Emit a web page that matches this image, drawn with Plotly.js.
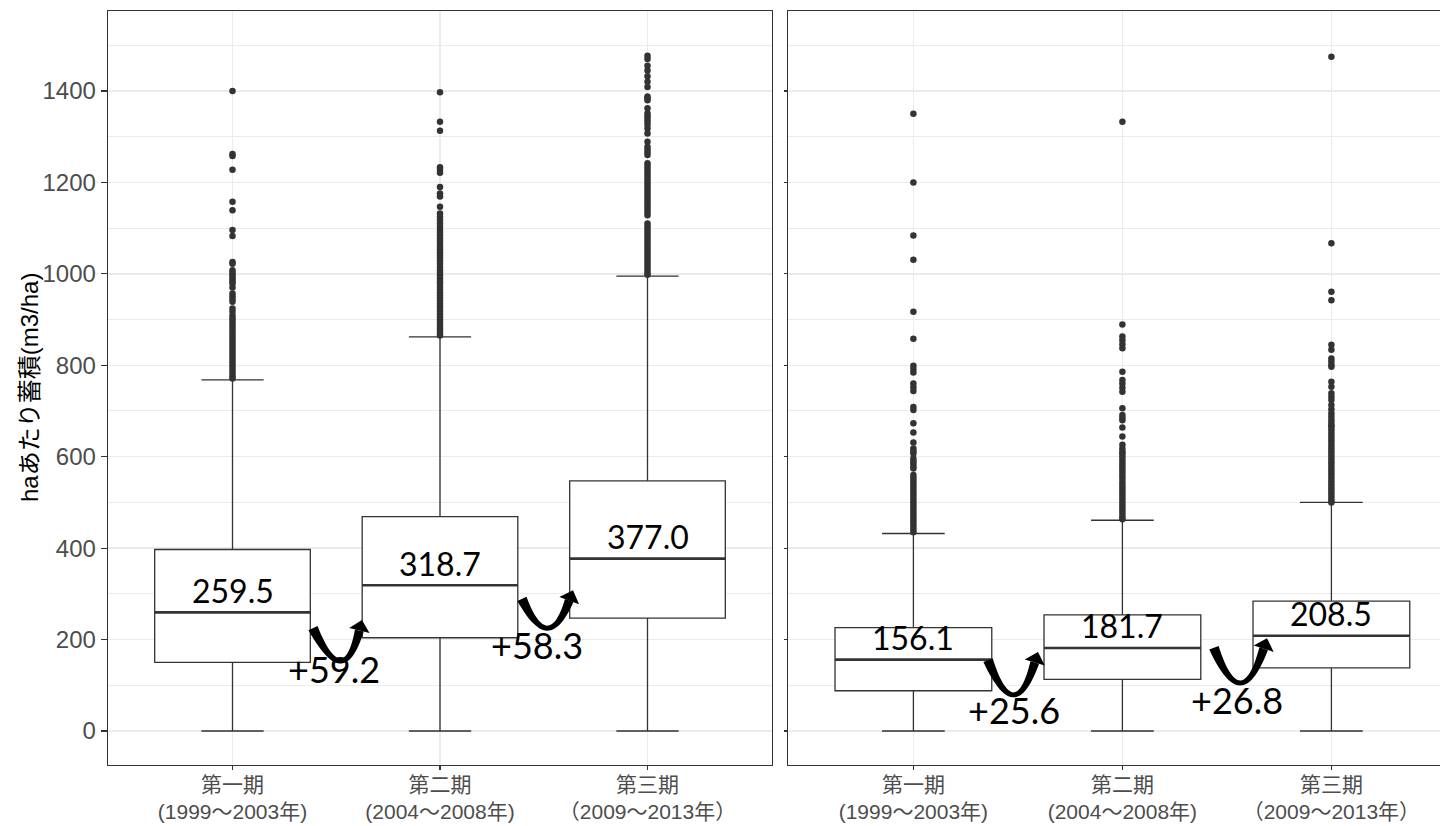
<!DOCTYPE html>
<html>
<head>
<meta charset="utf-8">
<script src="https://cdn.plot.ly/plotly-3.0.1.min.js"></script>
<style>html,body{margin:0;padding:0;background:#fff;overflow:hidden}</style>
</head>
<body>
<div id="chart" style="width:1440px;height:826px"></div>
<script>
// ---------------- data ----------------
const categories = ['第一期', '第二期', '第三期'];
const periodYears = ['(1999～2003年)', '(2004～2008年)', '（2009～2013年）'];
const catX = [1, 2, 3];

// left panel
const leftQ1 = [150, 204, 247];
const leftMedian = [259.5, 318.7, 377.0];
const leftQ3 = [397, 469, 547];
const leftLower = [0, 0, 0];
const leftUpper = [768, 862, 995];
const leftOut1 = [1400, 1262, 1258, 1228, 1158, 1139, 1096, 1083, 1026, 1022, 1008, 1003, 998, 993, 988, 983, 979, 970, 957, 951, 945, 939, 924, 917, 909, 903, 897, 891, 885, 879, 873, 866, 860, 854, 848, 842, 836, 830, 824, 818, 812, 806, 800, 794, 788, 782, 776, 771];
const leftOut2 = [1397, 1333, 1313, 1233, 1228, 1221, 1190, 1176, 1169, 1147, 1132, 1125, 1117, 1110, 1103, 1096, 1090, 1084, 1078, 1072, 1066, 1059, 1053, 1047, 1041, 1035, 1029, 1022, 1015, 1008, 1002, 996, 990, 984, 979, 971, 965, 959, 953, 947, 941, 935, 929, 923, 917, 911, 905, 899, 893, 887, 881, 875, 869, 865];
const leftOut3 = [1477, 1470, 1455, 1445, 1432, 1420, 1409, 1388, 1384, 1380, 1362, 1351, 1345, 1339, 1333, 1326, 1318, 1307, 1289, 1278, 1272, 1266, 1260, 1242, 1236, 1230, 1224, 1218, 1212, 1206, 1200, 1194, 1188, 1182, 1176, 1170, 1164, 1158, 1152, 1146, 1140, 1134, 1128, 1110, 1104, 1098, 1092, 1086, 1080, 1074, 1068, 1062, 1056, 1050, 1044, 1038, 1032, 1026, 1020, 1014, 1008, 1002, 998];

// right panel
const rightQ1 = [88, 113, 138];
const rightMedian = [156.1, 181.7, 208.5];
const rightQ3 = [226, 254, 284];
const rightLower = [0, 0, 0];
const rightUpper = [432, 461, 500];
const rightOut1 = [1350, 1200, 1084, 1031, 917, 858, 799, 792, 784, 760, 752, 744, 709, 702, 673, 653, 631, 618, 612, 607, 596, 590, 585, 579, 574, 560, 554, 548, 542, 536, 530, 524, 518, 512, 506, 500, 494, 488, 482, 476, 470, 464, 458, 452, 446, 440, 435];
const rightOut2 = [1333, 889, 863, 855, 846, 837, 786, 768, 760, 751, 742, 706, 691, 685, 680, 664, 644, 626, 618, 611, 607, 601, 595, 589, 583, 577, 571, 565, 559, 553, 545, 539, 533, 527, 521, 515, 509, 503, 497, 491, 485, 479, 473, 467, 463];
const rightOut3 = [1475, 1067, 961, 942, 845, 834, 815, 808, 801, 797, 764, 753, 739, 731, 724, 713, 704, 695, 688, 681, 675, 669, 666, 660, 654, 648, 642, 636, 630, 624, 618, 612, 606, 600, 594, 588, 582, 576, 570, 564, 558, 552, 546, 540, 534, 528, 522, 516, 510, 504, 500];

const yTickVals = [0, 200, 400, 600, 800, 1000, 1200, 1400];

// ---------------- layout config (positions / styles) ----------------
const W = 1440, H = 826;
const FONT = 'Liberation Sans, Arial, Noto Sans CJK JP, sans-serif';
const LABEL_FONT = 'Lato, Noto Sans, sans-serif';
const DARK = '#333333';
const GRID = '#EBEBEB';
const yRange = [-74.4, 1575];
const panelTop = 11, panelBottom = 765;
const panels = {
  L: {x0: 108, x1: 772, xr: [0.4, 3.6], xref: 'x', yref: 'y'},
  R: {x0: 788, x1: 1440, xr: [0.4, 0.4 + 652 / 209], xref: 'x2', yref: 'y2'}
};
const boxWidth = 0.75;
// label positions [x, y] in data units
const changePos = {L: [[1.49, 136], [2.467, 188]], R: [[1.48, 46], [2.55, 68]]};
// arrow geometry: start, bottom, tip (data units)
const arrowGeom = {
  L: [[[1.388, 225], [1.518, 153], [1.624, 243]], [[2.395, 289], [2.516, 225], [2.641, 308]]],
  R: [[[1.357, 155], [1.477, 79], [1.596, 173]], [[2.438, 182], [2.563, 105], [2.692, 203]]]
};

// ---------------- helpers ----------------
function toPx(p, x, y) {
  const a = panels[p];
  const sx = (a.x1 - a.x0) / (a.xr[1] - a.xr[0]);
  const sy = (panelBottom - panelTop) / (yRange[1] - yRange[0]);
  return [a.x0 + (x - a.xr[0]) * sx, panelBottom - (y - yRange[0]) * sy];
}
function toData(p, px, py) {
  const a = panels[p];
  const sx = (a.x1 - a.x0) / (a.xr[1] - a.xr[0]);
  const sy = (panelBottom - panelTop) / (yRange[1] - yRange[0]);
  return [a.xr[0] + (px - a.x0) / sx, yRange[0] + (panelBottom - py) / sy];
}
function pathFrom(p, pts) {
  return pts.map((q, i) => {
    const d = toData(p, q[0], q[1]);
    return (i ? 'L' : 'M') + d[0].toFixed(5) + ',' + d[1].toFixed(3);
  }).join(' ') + ' Z';
}
function arrowShapes(p, g) {
  const s = toPx(p, g[0][0], g[0][1]);
  const b = toPx(p, g[1][0], g[1][1]);
  const t = toPx(p, g[2][0], g[2][1]);
  const headLen = 11, headHalf = 10.5;
  let c = [2 * b[0] - (s[0] + t[0]) / 2, 2 * b[1] - (s[1] + t[1]) / 2];
  let dx = t[0] - c[0], dy = t[1] - c[1];
  let dl = Math.hypot(dx, dy); dx /= dl; dy /= dl;
  const e = [t[0] - dx * headLen, t[1] - dy * headLen];
  const c2 = [2 * b[0] - (s[0] + e[0]) / 2, 2 * b[1] - (s[1] + e[1]) / 2];
  const N = 30, left = [], right = [];
  const w0 = 10, wm = 5, w1 = 9;
  for (let i = 0; i <= N; i++) {
    const u = i / N;
    const px = (1 - u) * (1 - u) * s[0] + 2 * u * (1 - u) * c2[0] + u * u * e[0];
    const py = (1 - u) * (1 - u) * s[1] + 2 * u * (1 - u) * c2[1] + u * u * e[1];
    let tx = 2 * (1 - u) * (c2[0] - s[0]) + 2 * u * (e[0] - c2[0]);
    let ty = 2 * (1 - u) * (c2[1] - s[1]) + 2 * u * (e[1] - c2[1]);
    const tl = Math.hypot(tx, ty); tx /= tl; ty /= tl;
    const w = u < 0.5 ? wm + (w0 - wm) * Math.pow(1 - 2 * u, 2) : wm + (w1 - wm) * Math.pow(2 * u - 1, 2);
    left.push([px - ty * w / 2, py + tx * w / 2]);
    right.push([px + ty * w / 2, py - tx * w / 2]);
  }
  const body = left.concat(right.reverse());
  const head = [[t[0], t[1]], [e[0] - dy * headHalf, e[1] + dx * headHalf], [e[0] + dy * headHalf, e[1] - dx * headHalf]];
  const a = panels[p];
  const common = {type: 'path', xref: a.xref, yref: a.yref, fillcolor: '#000', line: {width: 0}, layer: 'above'};
  return [Object.assign({path: pathFrom(p, body)}, common), Object.assign({path: pathFrom(p, head)}, common)];
}

// ---------------- traces ----------------
function panelTraces(p, q1, med, q3, lo, hi, outs) {
  const a = panels[p];
  const tr = [];
  tr.push({
    type: 'box', x: catX, q1: q1, median: med, q3: q3, lowerfence: lo, upperfence: hi,
    width: boxWidth, whiskerwidth: 0.4, boxpoints: false, fillcolor: '#ffffff',
    line: {color: DARK, width: 1.3}, xaxis: a.xref, yaxis: a.yref, hoverinfo: 'skip'
  });
  const ox = [], oy = [];
  outs.forEach((arr, i) => arr.forEach(v => { ox.push(catX[i]); oy.push(v); }));
  tr.push({type: 'scatter', mode: 'markers', x: ox, y: oy, marker: {color: DARK, size: 6.5}, xaxis: a.xref, yaxis: a.yref, hoverinfo: 'skip'});
  const mx = [], my = [];
  med.forEach((m, i) => { mx.push(catX[i] - boxWidth / 2, catX[i] + boxWidth / 2, null); my.push(m, m, null); });
  tr.push({type: 'scatter', mode: 'lines', x: mx, y: my, line: {color: DARK, width: 2.6}, xaxis: a.xref, yaxis: a.yref, hoverinfo: 'skip'});
  return tr;
}
const data = [].concat(
  panelTraces('L', leftQ1, leftMedian, leftQ3, leftLower, leftUpper, [leftOut1, leftOut2, leftOut3]),
  panelTraces('R', rightQ1, rightMedian, rightQ3, rightLower, rightUpper, [rightOut1, rightOut2, rightOut3])
);

// ---------------- annotations ----------------
const annotations = [];
function panelAnn(p, med) {
  const a = panels[p];
  med.forEach((m, i) => annotations.push({
    xref: a.xref, yref: a.yref, x: catX[i], y: m, yshift: 22, text: m.toFixed(1), showarrow: false,
    font: {family: LABEL_FONT, size: 32, color: '#000'}, xanchor: 'center', yanchor: 'middle'
  }));
  for (let i = 0; i < med.length - 1; i++) {
    const d = med[i + 1] - med[i];
    annotations.push({
      xref: a.xref, yref: a.yref, x: changePos[p][i][0], y: changePos[p][i][1], text: '+' + d.toFixed(1), showarrow: false,
      font: {family: LABEL_FONT, size: 36, color: '#000'}, xanchor: 'center', yanchor: 'middle'
    });
  }
}
panelAnn('L', leftMedian);
panelAnn('R', rightMedian);
annotations.push({
  xref: 'paper', yref: 'paper', x: 29 / W, y: 1 - (panelTop + panelBottom) / 2 / H, text: 'haあたり蓄積(m3/ha)',
  textangle: -90, showarrow: false, font: {family: FONT, size: 24, color: '#000'}, xanchor: 'center', yanchor: 'middle'
});

let shapes = [];
arrowGeom.L.forEach(g => shapes = shapes.concat(arrowShapes('L', g)));
arrowGeom.R.forEach(g => shapes = shapes.concat(arrowShapes('R', g)));

// ---------------- axes ----------------
const tickText = categories.map((c, i) => c + '<br>' + periodYears[i]);
const yDomain = [1 - panelBottom / H, 1 - panelTop / H];
function xAxis(p, anchor) {
  const a = panels[p];
  return {
    domain: [a.x0 / W, a.x1 / W], range: a.xr, anchor: anchor, tickmode: 'array', tickvals: catX, ticktext: tickText,
    tickfont: {family: FONT, size: 21, color: '#4D4D4D'}, ticks: 'outside', ticklen: 4, tickwidth: 1.2, tickcolor: DARK,
    ticklabelstandoff: -4,
    showgrid: true, gridcolor: GRID, gridwidth: 1.3, showline: true, linecolor: DARK, linewidth: 1.3, mirror: true,
    zeroline: false, fixedrange: true
  };
}
function yAxis(anchor, labels, ticklen, mirror) {
  return {
    domain: yDomain, range: yRange, anchor: anchor, tickmode: 'array', tickvals: yTickVals, showticklabels: labels,
    tickfont: {family: FONT, size: 24, color: '#4D4D4D'}, ticks: 'outside', ticklen: ticklen, tickwidth: 1.2, tickcolor: DARK,
    showgrid: true, gridcolor: GRID, gridwidth: 1.3,
    minor: {dtick: 100, tick0: 0, showgrid: true, gridcolor: GRID, gridwidth: 1, ticks: ''},
    showline: true, linecolor: DARK, linewidth: 1.3, mirror: mirror, zeroline: false, fixedrange: true
  };
}

const layout = {
  width: W, height: H, margin: {l: 0, r: 0, t: 0, b: 0}, paper_bgcolor: '#ffffff', plot_bgcolor: '#ffffff',
  showlegend: false, font: {family: FONT, color: '#4D4D4D'},
  xaxis: xAxis('L', 'y'), yaxis: yAxis('x', true, 6, true),
  xaxis2: xAxis('R', 'y2'), yaxis2: yAxis('x2', false, 3, false),
  annotations: annotations, shapes: shapes
};

Plotly.newPlot('chart', data, layout, {staticPlot: true, displayModeBar: false});
</script>
</body>
</html>
